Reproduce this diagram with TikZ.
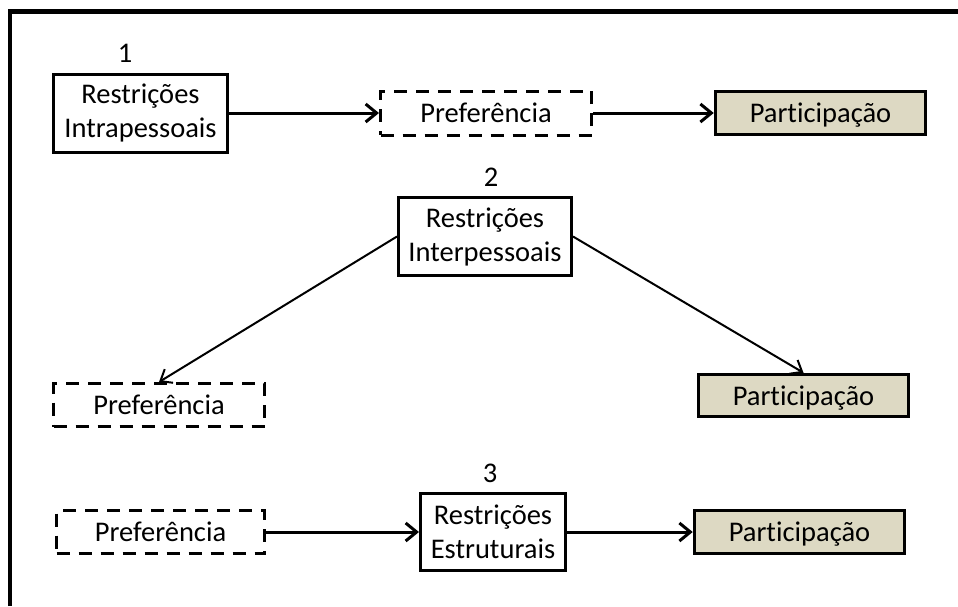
\documentclass[tikz,border=0pt]{standalone}
\usepackage{fontspec}
\setmainfont{Carlito}[Ligatures={NoCommon}]
\usetikzlibrary{arrows.meta}
\definecolor{tanfill}{HTML}{DDD9C3}
\begin{document}
\begin{tikzpicture}[x=1pt,y=-1pt,
  every node/.style={font=\fontsize{28.5}{34}\selectfont, align=center, inner sep=0pt},
  solidbox/.style={draw, line width=3pt, fill=white},
  oneline/.style={text depth=0pt},
  dashbox/.style={oneline, draw, line width=3pt, dash pattern=on 13pt off 9pt},
  partbox/.style={oneline, draw, line width=3.5pt, fill=tanfill, minimum width=210pt, minimum height=43pt},
  flow/.style={line width=3pt, -{Straight Barb[length=11pt,width=18pt]}},
  diag/.style={line width=2pt, -{Straight Barb[length=10pt,width=16pt]}},
  frame/.style={line width=4.5pt}
  ]
\useasboundingbox (0,0) rectangle (958,606);

% open frame: left and top edges
\coordinate (fb) at (10,606);
\coordinate (fc) at (10,11.5);
\coordinate (fr) at (958,11.5);
\draw[frame] (fb) -- (fc) -- (fr);

% row 1: intrapersonal constraints
\node (n1) at (125,53) {1};
\node[solidbox, minimum width=174pt, minimum height=78pt] (r1) at (140.5,113) {Restrições\\Intrapessoais};
\node[dashbox, minimum width=211pt, minimum height=44pt] (p1) at (486,113) {Preferência};
\node[partbox] (q1) at (820.5,113) {Participação};
\draw[flow] (r1.east) -- (p1.west);
\draw[flow] (p1.east) -- (q1.west);

% row 2: interpersonal constraints
\node (n2) at (491,177) {2};
\node[solidbox, minimum width=173pt, minimum height=78pt] (r2) at (485,236.5) {Restrições\\Interpessoais};
\node[dashbox, minimum width=211pt, minimum height=43pt] (p2) at (159,405) {Preferência};
\node[partbox, minimum height=42pt] (q2) at (803.5,395.5) {Participação};
\draw[diag] (r2.west) -- (p2.north);
\draw[diag] (r2.east) -- (q2.north);

% row 3: structural constraints
\node (n3) at (490,473) {3};
\node[dashbox, minimum width=208pt, minimum height=43pt] (p3) at (160.5,532) {Preferência};
\node[solidbox, minimum width=145pt, minimum height=77pt] (r3) at (493,532) {Restrições\\Estruturais};
\node[partbox] (q3) at (799.5,532) {Participação};
\draw[flow] (p3.east) -- (r3.west);
\draw[flow] (r3.east) -- (q3.west);
\end{tikzpicture}
\end{document}
